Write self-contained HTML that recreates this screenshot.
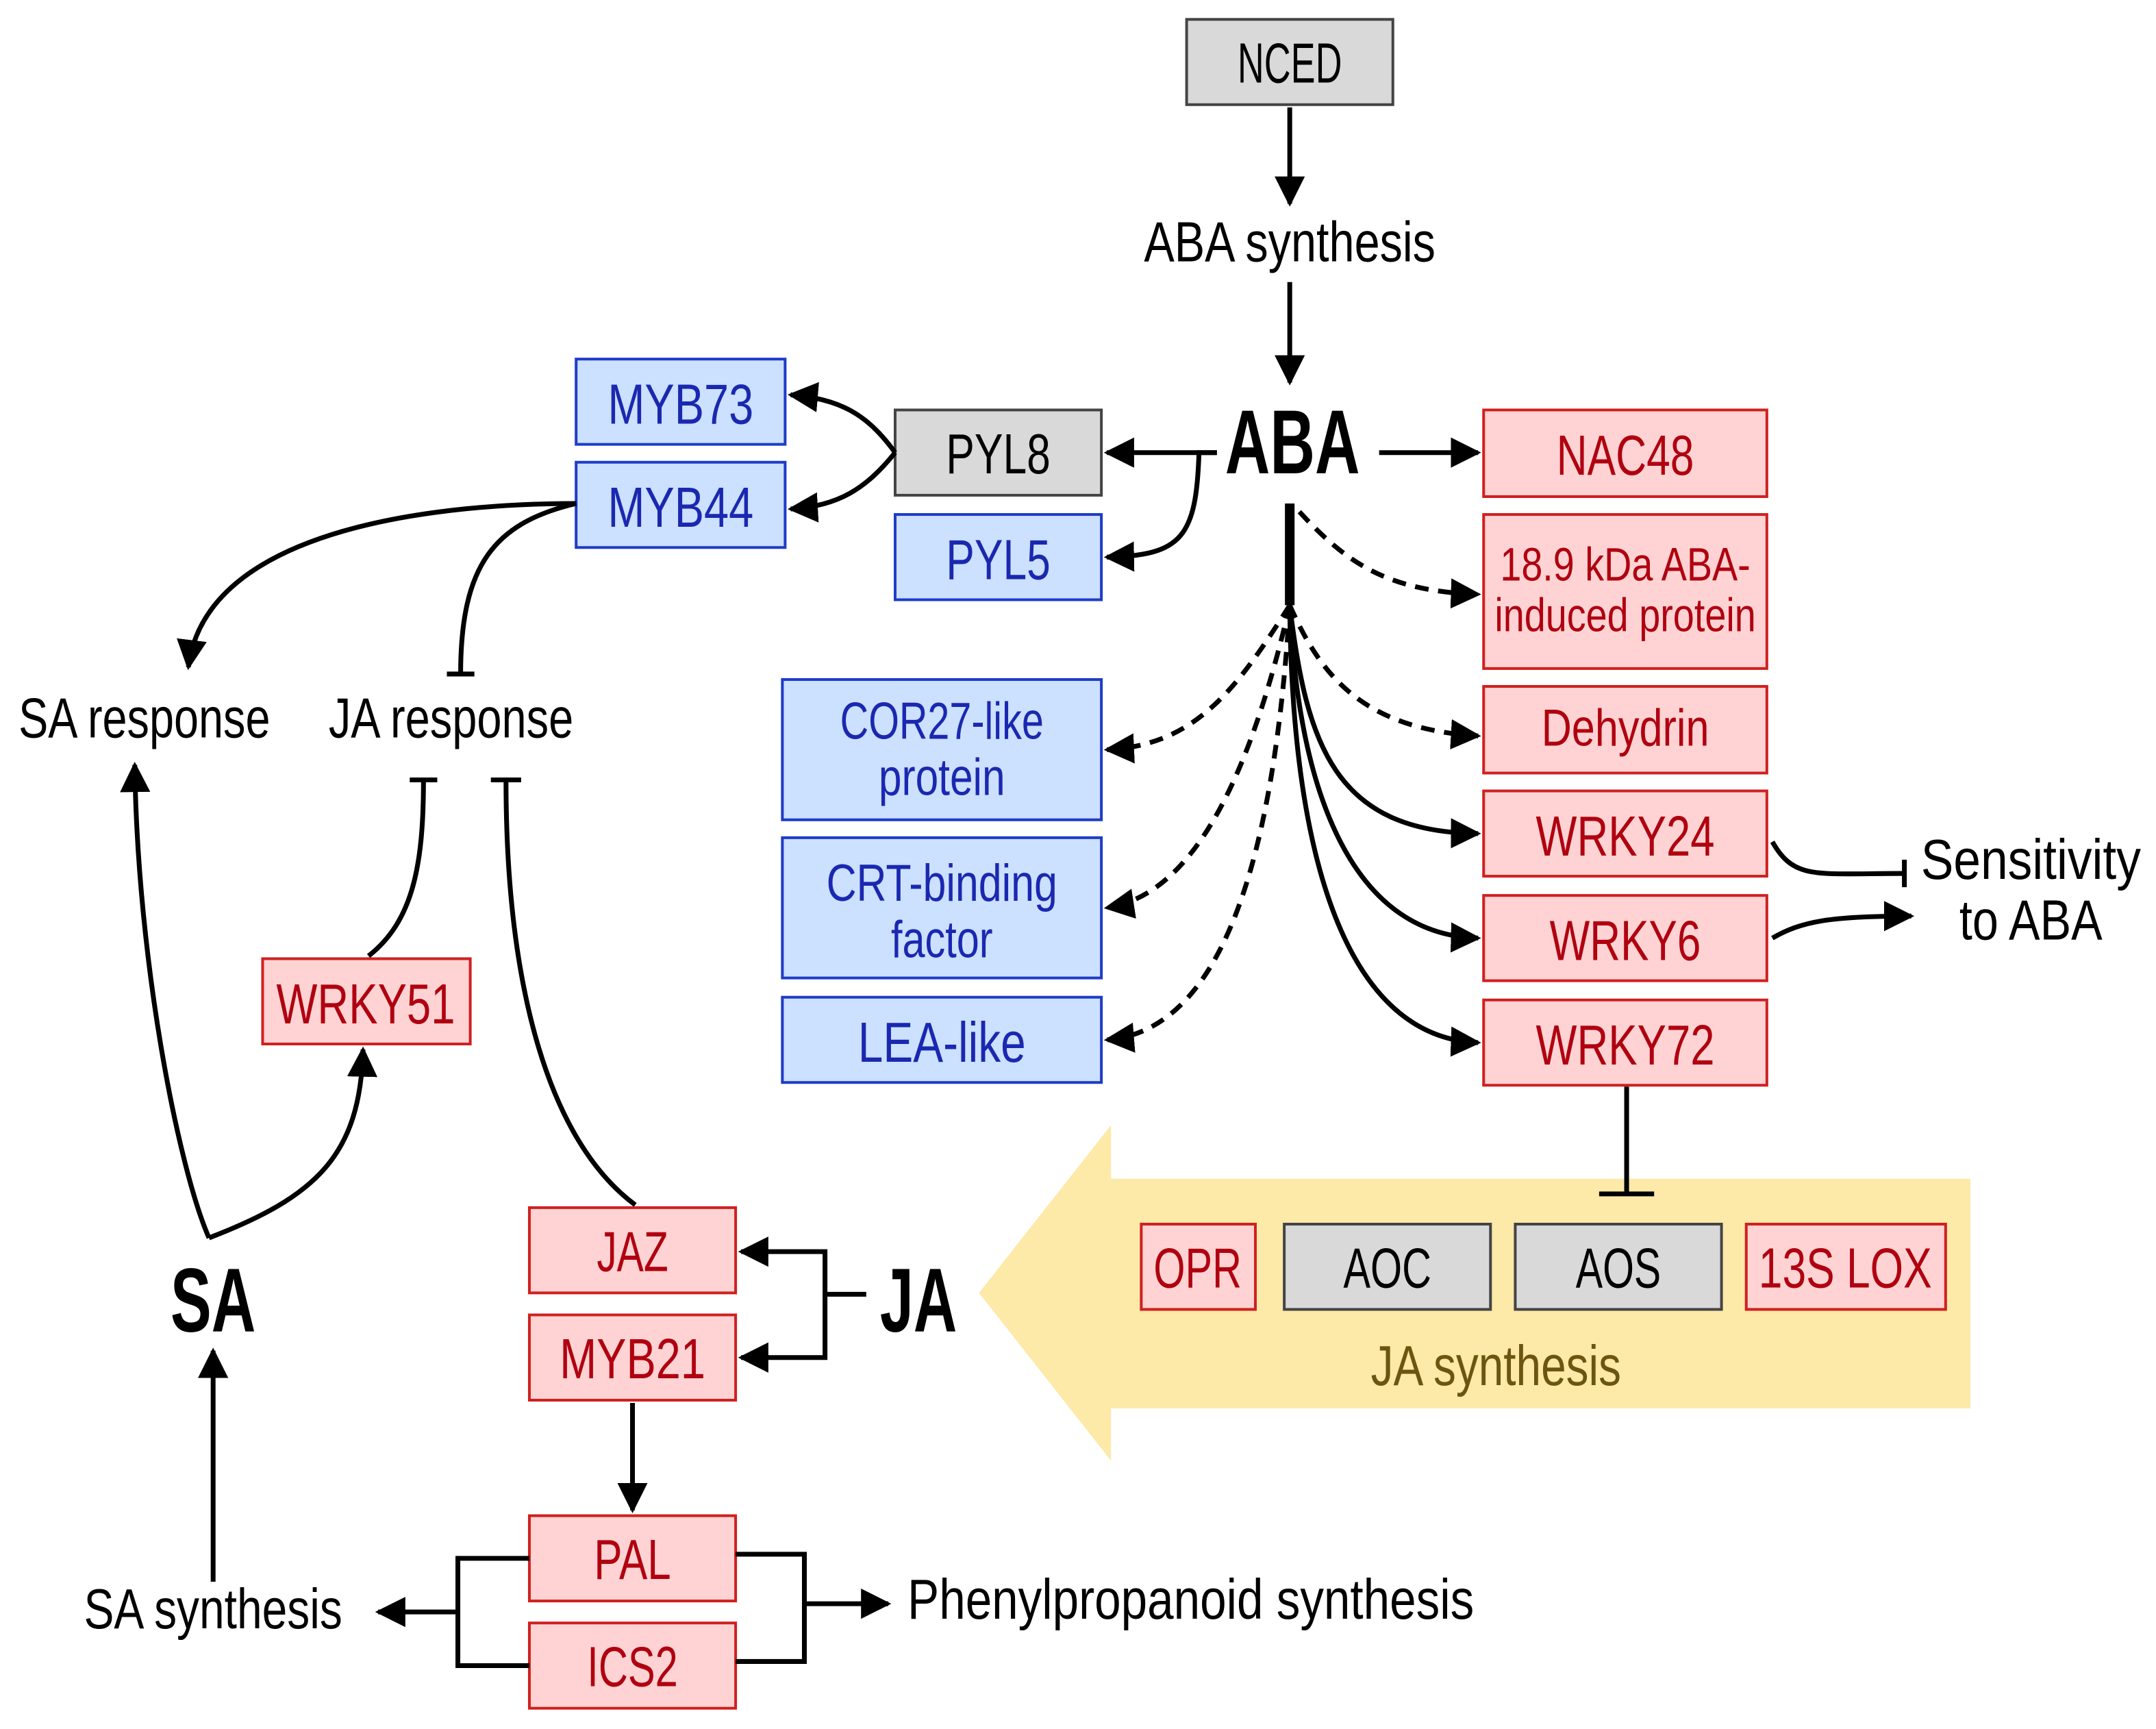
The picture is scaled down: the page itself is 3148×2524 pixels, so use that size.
<!DOCTYPE html>
<html><head><meta charset="utf-8"><style>
html,body{margin:0;padding:0;background:#fff;}
svg{display:block;}
text{font-family:"Liberation Sans Narrow","Liberation Sans",sans-serif;}
</style></head><body>
<svg width="3148" height="2524" viewBox="0 0 1568 1257" xmlns="http://www.w3.org/2000/svg">
<defs>
<marker id="ah" viewBox="0 0 10 10" refX="9" refY="5" markerWidth="22" markerHeight="22" orient="auto" markerUnits="userSpaceOnUse">
<path d="M0,0 L10,5 L0,10 z" fill="#000"/></marker>
</defs>
<path d="M808,818 L808,857 L1433,857 L1433,1024 L808,1024 L808,1062 L712,940 Z" fill="#fde9a8"/>
<g stroke-width="2" font-size="41" text-anchor="middle">
<g fill="#d9d9d9" stroke="#444">
<rect x="863" y="14" width="150" height="62"/>
<rect x="651" y="298" width="150" height="62"/>
<rect x="934" y="890" width="150" height="62"/>
<rect x="1102" y="890" width="150" height="62"/>
</g>
<g fill="#000" stroke="none">
<text x="938" y="60" textLength="76" lengthAdjust="spacingAndGlyphs">NCED</text>
<text x="726" y="344" textLength="76" lengthAdjust="spacingAndGlyphs">PYL8</text>
<text x="1009" y="936" textLength="64" lengthAdjust="spacingAndGlyphs">AOC</text>
<text x="1177" y="936" textLength="62" lengthAdjust="spacingAndGlyphs">AOS</text>
</g>
<g fill="#cce0ff" stroke="#1e3cc8">
<rect x="419" y="261" width="152" height="62"/>
<rect x="419" y="336" width="152" height="62"/>
<rect x="651" y="374" width="150" height="62"/>
<rect x="569" y="494" width="232" height="102"/>
<rect x="569" y="609" width="232" height="102"/>
<rect x="569" y="725" width="232" height="62"/>
</g>
<g fill="#1a28b0" stroke="none">
<text x="495" y="308" textLength="106" lengthAdjust="spacingAndGlyphs">MYB73</text>
<text x="495" y="383" textLength="106" lengthAdjust="spacingAndGlyphs">MYB44</text>
<text x="726" y="421" textLength="76" lengthAdjust="spacingAndGlyphs">PYL5</text>
<text x="685" y="537" font-size="38" textLength="148" lengthAdjust="spacingAndGlyphs">COR27-like</text>
<text x="685" y="578" font-size="38" textLength="92" lengthAdjust="spacingAndGlyphs">protein</text>
<text x="685" y="655" font-size="38" textLength="168" lengthAdjust="spacingAndGlyphs">CRT-binding</text>
<text x="685" y="696" font-size="38" textLength="74" lengthAdjust="spacingAndGlyphs">factor</text>
<text x="685" y="772" textLength="122" lengthAdjust="spacingAndGlyphs">LEA-like</text>
</g>
<g fill="#ffd3d3" stroke="#d02020">
<rect x="1079" y="298" width="206" height="63"/>
<rect x="1079" y="374" width="206" height="112"/>
<rect x="1079" y="499" width="206" height="63"/>
<rect x="1079" y="575" width="206" height="62"/>
<rect x="1079" y="651" width="206" height="62"/>
<rect x="1079" y="727" width="206" height="62"/>
<rect x="191" y="697" width="151" height="62"/>
<rect x="385" y="878" width="150" height="62"/>
<rect x="385" y="956" width="150" height="62"/>
<rect x="385" y="1102" width="150" height="62"/>
<rect x="385" y="1180" width="150" height="62"/>
<rect x="830" y="890" width="83" height="62"/>
<rect x="1270" y="890" width="145" height="62"/>
</g>
<g fill="#b00010" stroke="none">
<text x="1182" y="345" textLength="100" lengthAdjust="spacingAndGlyphs">NAC48</text>
<text x="1182" y="422" font-size="34" textLength="182" lengthAdjust="spacingAndGlyphs">18.9 kDa ABA-</text>
<text x="1182" y="459" font-size="34" textLength="190" lengthAdjust="spacingAndGlyphs">induced protein</text>
<text x="1182" y="542" font-size="38" textLength="122" lengthAdjust="spacingAndGlyphs">Dehydrin</text>
<text x="1182" y="622" textLength="130" lengthAdjust="spacingAndGlyphs">WRKY24</text>
<text x="1182" y="698" textLength="110" lengthAdjust="spacingAndGlyphs">WRKY6</text>
<text x="1182" y="774" textLength="130" lengthAdjust="spacingAndGlyphs">WRKY72</text>
<text x="266" y="744" textLength="130" lengthAdjust="spacingAndGlyphs">WRKY51</text>
<text x="460" y="924" textLength="52" lengthAdjust="spacingAndGlyphs">JAZ</text>
<text x="460" y="1002" textLength="106" lengthAdjust="spacingAndGlyphs">MYB21</text>
<text x="460" y="1148" textLength="56" lengthAdjust="spacingAndGlyphs">PAL</text>
<text x="460" y="1226" textLength="66" lengthAdjust="spacingAndGlyphs">ICS2</text>
<text x="871" y="936" textLength="64" lengthAdjust="spacingAndGlyphs">OPR</text>
<text x="1342" y="936" textLength="126" lengthAdjust="spacingAndGlyphs">13S LOX</text>
</g>
<g fill="#000" stroke="none">
<text x="938" y="190" textLength="212" lengthAdjust="spacingAndGlyphs">ABA synthesis</text>
<text x="940" y="344" font-size="66" font-weight="bold" textLength="98" lengthAdjust="spacingAndGlyphs">ABA</text>
<text x="105" y="536" textLength="183" lengthAdjust="spacingAndGlyphs">SA response</text>
<text x="328" y="536" textLength="178" lengthAdjust="spacingAndGlyphs">JA response</text>
<text x="1477" y="639" textLength="160" lengthAdjust="spacingAndGlyphs">Sensitivity</text>
<text x="1477" y="683" textLength="104" lengthAdjust="spacingAndGlyphs">to ABA</text>
<text x="668" y="968" font-size="66" font-weight="bold" textLength="56" lengthAdjust="spacingAndGlyphs">JA</text>
<text x="155" y="968" font-size="66" font-weight="bold" textLength="62" lengthAdjust="spacingAndGlyphs">SA</text>
<text x="155" y="1184" textLength="188" lengthAdjust="spacingAndGlyphs">SA synthesis</text>
<text x="866" y="1177" textLength="412" lengthAdjust="spacingAndGlyphs">Phenylpropanoid synthesis</text>
<text x="1088" y="1007" fill="#6b5510" textLength="182" lengthAdjust="spacingAndGlyphs">JA synthesis</text>
</g>
</g>
<g fill="none" stroke="#000" stroke-width="3.5">
<path d="M938,78 V148" marker-end="url(#ah)"/>
<path d="M938,205 V278" marker-end="url(#ah)"/>
<path d="M938,366 V440" stroke-width="7"/>
<path d="M1003,329 H1075" marker-end="url(#ah)"/>
<path d="M885,329 H805" marker-end="url(#ah)"/>
<path d="M885,329 H872 C870,390 860,404 805,405" marker-end="url(#ah)"/>
<path d="M651,329 C630,300 610,290 575,287" marker-end="url(#ah)"/>
<path d="M651,329 C630,355 610,368 575,370" marker-end="url(#ah)"/>
<g stroke-dasharray="10,7">
<path d="M945,372 C980,410 1010,430 1075,432" marker-end="url(#ah)"/>
<path d="M938,440 C960,490 990,530 1075,535" marker-end="url(#ah)"/>
<path d="M938,440 C900,500 870,542 805,545" marker-end="url(#ah)"/>
<path d="M938,440 C910,560 870,650 805,660" marker-end="url(#ah)"/>
<path d="M938,440 C925,650 880,750 805,756" marker-end="url(#ah)"/>
</g>
<path d="M938,440 C950,540 970,605 1075,606" marker-end="url(#ah)"/>
<path d="M938,440 C945,590 990,680 1075,682" marker-end="url(#ah)"/>
<path d="M938,440 C940,650 990,755 1075,758" marker-end="url(#ah)"/>
<path d="M1289,612 C1305,640 1320,635 1385,635"/>
<path d="M1385,625 V645"/>
<path d="M1289,682 C1310,670 1330,666 1390,666" marker-end="url(#ah)"/>
<path d="M1183,790 V868"/>
<path d="M1163,868 H1203"/>
<path d="M419,366 C330,366 150,380 137,485" marker-end="url(#ah)"/>
<path d="M419,366 C360,380 335,410 335,490"/>
<path d="M325,490 H345"/>
<path d="M268,695 C300,670 308,630 308,567"/>
<path d="M298,567 H318"/>
<path d="M462,876 C400,830 368,720 368,567"/>
<path d="M357,567 H379"/>
<path d="M152,900 C130,850 100,700 98,556" marker-end="url(#ah)"/>
<path d="M152,900 C230,870 262,840 264,763" marker-end="url(#ah)"/>
<path d="M155,1150 V982" marker-end="url(#ah)"/>
<path d="M630,941 H600 V910 H539" marker-end="url(#ah)"/>
<path d="M600,941 V987 H539" marker-end="url(#ah)"/>
<path d="M460,1020 V1098" marker-end="url(#ah)"/>
<path d="M385,1133 H333 V1211 H385"/>
<path d="M333,1172 H275" marker-end="url(#ah)"/>
<path d="M535,1130 H585 V1208 H535"/>
<path d="M585,1166 H646" marker-end="url(#ah)"/>
</g>
</svg>
</body></html>
